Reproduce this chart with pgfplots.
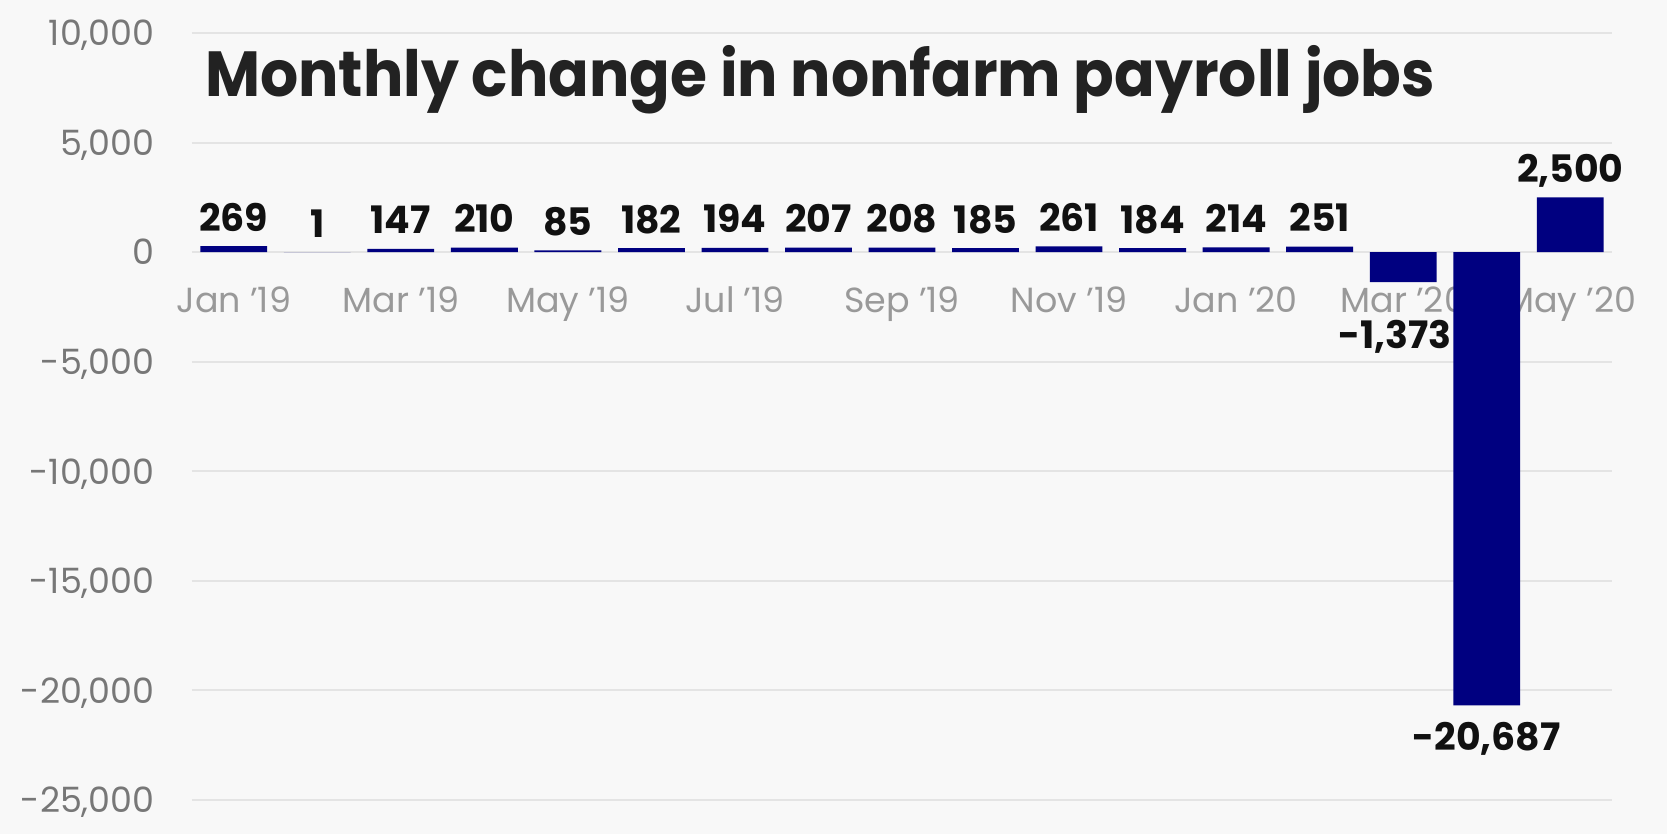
\documentclass[border=0pt]{standalone}
\usepackage{fontspec}
\setmainfont{Poppins}
\usepackage{pgfplots}
\pgfplotsset{compat=1.18}

\definecolor{bg}{HTML}{F8F8F8}
\definecolor{gridc}{HTML}{E4E4E4}
\definecolor{barc}{HTML}{000080}
\definecolor{ytk}{HTML}{777777}
\definecolor{xtk}{HTML}{999999}
\definecolor{lbl}{HTML}{111111}
\definecolor{ttl}{HTML}{222222}

\pgfplotsset{
    valuelabel/.style={
        draw=none, mark=none,
        nodes near coords,
        every node near coord/.append style={
            font=\fontsize{19}{22}\selectfont\bfseries,
            text=lbl, inner sep=0pt, anchor=base,
            /pgf/number format/fixed,
            /pgf/number format/precision=0,
            /pgf/number format/1000 sep={,},
            /pgf/number format/assume math mode=true,
        },
    },
}

\begin{document}
\begin{tikzpicture}
    \path[use as bounding box, fill=bg] (-96bp,-17bp) rectangle (737.5bp,400bp);
    \begin{axis}[
            scale only axis,
            width=710bp,
            height=383.5bp,
            xmin=-0.5, xmax=16.5,
            ymin=-25000, ymax=10000,
            xtick={0,2,...,16},
            xticklabels={Jan '19, Mar '19, May '19, Jul '19, Sep '19, Nov '19, Jan '20, Mar '20, May '20},
            ytick={-25000,-20000,...,10000},
            scaled y ticks=false,
            y tick label style={
                /pgf/number format/fixed,
                /pgf/number format/1000 sep={,},
                /pgf/number format/assume math mode=true,
                font=\fontsize{17.5}{20}\selectfont, text=ytk,
                inner sep=0pt, anchor=east, xshift=-18.5bp, text depth=0pt,
            },
            x tick label style={
                font=\fontsize{17.5}{20}\selectfont, text=xtk,
                inner sep=0pt, anchor=base, yshift=243.9bp,
            },
            axis line style={draw=none},
            major tick length=0pt,
            ymajorgrids,
            grid style={gridc, line width=1bp},
            clip=false,
        ]
        % monthly change, thousands of jobs
        \addplot[ybar, bar width=0.8, bar shift=0pt, fill=barc, draw=none]
            coordinates {
                (0,269) (1,1) (2,147) (3,210) (4,85) (5,182) (6,194)
                (7,207) (8,208) (9,185) (10,261) (11,184) (12,214)
                (13,251) (14,-1373) (15,-20687) (16,2500)
            };
        \addplot[valuelabel, every node near coord/.append style={yshift=7.5bp}]
            coordinates {
                (0,269) (1,1) (2,147) (3,210) (4,85) (5,182) (6,194)
                (7,207) (8,208) (9,185) (10,261) (11,184) (12,214)
                (13,251) (16,2500)
            };
        \addplot[valuelabel, every node near coord/.append style={yshift=-33bp, xshift=-4bp}]
            coordinates {(14,-1373)};
        \addplot[valuelabel, every node near coord/.append style={yshift=-22.5bp}]
            coordinates {(15,-20687)};
    \end{axis}
    \node[anchor=base west, inner sep=0pt, text=ttl,
        font=\fontsize{32}{36}\selectfont\bfseries]
        at (6.5bp,351.5bp) {\scalebox{0.94}[1]{Monthly change in nonfarm payroll jobs}};
\end{tikzpicture}
\end{document}
